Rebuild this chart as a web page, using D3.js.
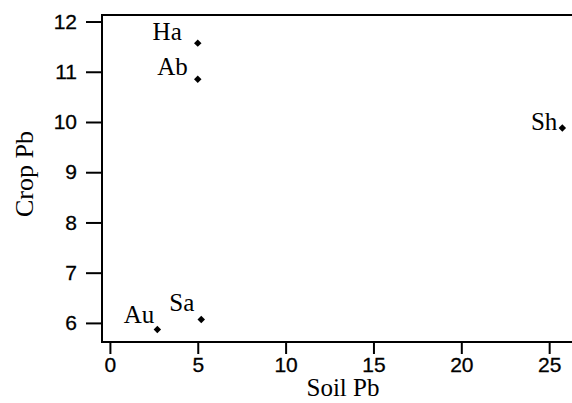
<!DOCTYPE html>
<html>
<head>
<meta charset="utf-8">
<script src="https://cdn.jsdelivr.net/npm/d3@7"></script>
<style>
html,body{margin:0;padding:0;background:#fff;}
svg{display:block;}
</style>
</head>
<body>
<svg id="chart" width="572" height="403"></svg>
<script>
// ---- data ----
const sites = ["Ha", "Ab", "Sh", "Au", "Sa"];
const soilPb = [5.0, 5.0, 25.75, 2.7, 5.2];
const cropPb = [11.57, 10.85, 9.88, 5.87, 6.07];
const xTicks = [0, 5, 10, 15, 20, 25];
const yTicks = [6, 7, 8, 9, 10, 11, 12];
const xTitle = "Soil Pb";
const yTitle = "Crop Pb";

// label offsets (styling, not data)
const labelOffsets = {
  Ha: [-16, -3],
  Ab: [-10, -4],
  Sh: [-5, 2],
  Au: [-3, -6],
  Sa: [-7, -8]
};

const svg = d3.select("#chart");
const x = d3.scaleLinear().domain([-0.45, 26.3]).range([102, 572]);
const y = d3.scaleLinear().domain([5.62, 12.13]).range([342, 15]);

const sans = "Liberation Sans, Arial, sans-serif";
const serif = "Liberation Serif, Times New Roman, serif";

// axes
const fmt = d3.format("d");
const xAxis = d3.axisBottom(x).tickValues(xTicks).tickFormat(fmt).tickSize(12).tickPadding(3).tickSizeOuter(0);
const yAxis = d3.axisLeft(y).tickValues(yTicks).tickFormat(fmt).tickSize(16).tickPadding(9).tickSizeOuter(0);

const gx = svg.append("g").attr("transform", `translate(0,${y.range()[0]})`).call(xAxis);
const gy = svg.append("g").attr("transform", `translate(${x.range()[0]},0)`).call(yAxis);

[gx, gy].forEach(g => {
  g.attr("font-family", sans).attr("font-size", 21);
  g.select(".domain").remove();
  g.selectAll(".tick line").attr("stroke", "#000").attr("stroke-width", 2);
  g.selectAll(".tick text").attr("fill", "#000").attr("stroke", "#000").attr("stroke-width", 0.3);
});

// frame: left, top, bottom
const x0 = x.range()[0], x1 = x.range()[1];
const yb = y.range()[0], yt = y.range()[1];
svg.append("path")
  .attr("d", `M${x1},${yt}H${x0}V${yb}H${x1}`)
  .attr("fill", "none").attr("stroke", "#000").attr("stroke-width", 2);

// points
const pts = sites.map((s, i) => ({ name: s, sx: soilPb[i], cy: cropPb[i] }));
const diamond = d3.symbol().type(d3.symbolSquare).size(28);
svg.append("g").selectAll("path").data(pts).join("path")
  .attr("d", diamond)
  .attr("transform", d => `translate(${x(d.sx)},${y(d.cy)}) rotate(45)`)
  .attr("fill", "#000");

svg.append("g").attr("font-family", serif).attr("font-size", 25)
  .selectAll("text").data(pts).join("text")
  .attr("x", d => x(d.sx) + labelOffsets[d.name][0])
  .attr("y", d => y(d.cy) + labelOffsets[d.name][1])
  .attr("text-anchor", "end")
  .attr("fill", "#000")
  .text(d => d.name);

// titles
svg.append("text")
  .attr("x", 343).attr("y", 396)
  .attr("text-anchor", "middle")
  .attr("font-family", serif).attr("font-size", 25)
  .text(xTitle);

svg.append("text")
  .attr("transform", "translate(33,174) rotate(-90)")
  .attr("text-anchor", "middle")
  .attr("font-family", serif).attr("font-size", 26)
  .text(yTitle);
</script>
</body>
</html>
